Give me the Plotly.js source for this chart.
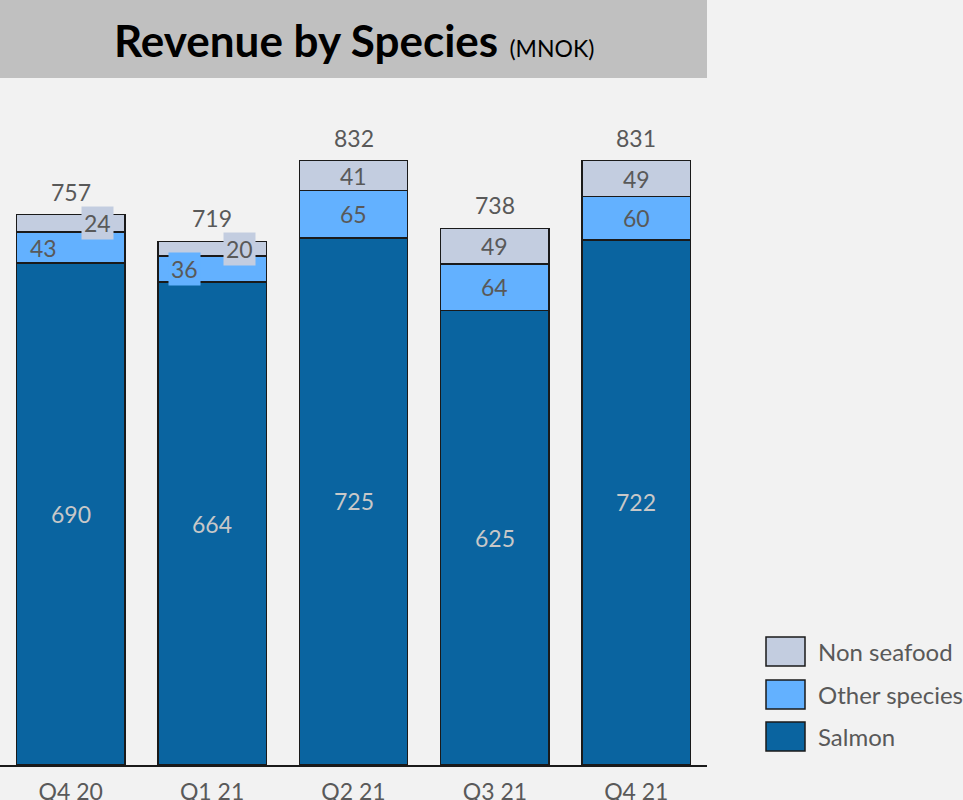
<!DOCTYPE html>
<html>
<head>
<meta charset="utf-8">
<script src="https://cdn.plot.ly/plotly-3.0.1.min.js"></script>
<style>
  html, body { margin: 0; padding: 0; background: #f2f2f2; }
  #chart { width: 963px; height: 800px; }
</style>
</head>
<body>
<div id="chart"></div>
<script>
// ---- Data ----
const quarters = ["Q4 20", "Q1 21", "Q2 21", "Q3 21", "Q4 21"];
const salmon = [690, 664, 725, 625, 722];
const otherSpecies = [43, 36, 65, 64, 60];
const nonSeafood = [24, 20, 41, 49, 49];
const totals = [757, 719, 832, 738, 831];
const seriesNames = ["Salmon", "Other species", "Non seafood"];

// ---- Styles ----
const FONT = "Lato, 'Open Sans', sans-serif";
const colSalmon = "#0a64a0";
const colOther = "#63b1ff";
const colNon = "#c3cde0";
const txt = "#595959";
const lineCol = "#1a1a1a";

const series = [salmon, otherSpecies, nonSeafood];
const colors = [colSalmon, colOther, colNon];

const traces = series.map((vals, i) => ({
  type: "bar",
  name: seriesNames[i],
  x: quarters,
  y: vals,
  marker: { color: colors[i], line: { color: lineCol, width: 1.5 } },
  hoverinfo: "x+y+name",
  showlegend: false
}));

// label offsets (pixels) for crowded small segments: [seriesIndex][quarterIndex]
const labelShift = {
  1: { 0: { x: -27, bg: false }, 1: { x: -28, bg: true } },
  2: { 0: { x: 27, bg: true }, 1: { x: 27, bg: true } }
};

const annotations = [];
quarters.forEach((q, qi) => {
  let base = 0;
  series.forEach((vals, si) => {
    const v = vals[qi];
    const sh = (labelShift[si] && labelShift[si][qi]) || null;
    annotations.push({
      x: q, y: base + v / 2, xref: "x", yref: "y",
      text: String(v), showarrow: false,
      xshift: sh ? sh.x : 0,
      font: { family: FONT, size: 23, color: si === 0 ? "#c8c8c8" : txt },
      bgcolor: sh && sh.bg ? colors[si] : "rgba(0,0,0,0)",
      borderpad: 2
    });
    base += v;
  });
  annotations.push({
    x: q, y: base, xref: "x", yref: "y",
    text: String(totals[qi]), showarrow: false,
    yanchor: "bottom", yshift: 7,
    font: { family: FONT, size: 23, color: txt }
  });
});

// Title
annotations.push({
  x: 0.5, y: 1 - 40 / 765, xref: "paper", yref: "paper",
  xanchor: "center", yanchor: "middle", showarrow: false,
  text: "<b>Revenue by Species</b> <span style='font-size:23px'>(MNOK)</span>",
  font: { family: FONT, size: 44, color: "#000000" }
});

// Custom legend (top to bottom)
const legendOrder = [2, 1, 0];
const legendTops = [637, 680, 722];
const shapes = [{
  type: "rect", xref: "paper", yref: "paper",
  x0: 0, x1: 1, y0: 1 - 78 / 765, y1: 1.0,
  fillcolor: "#c0c0c0", line: { width: 0 }, layer: "below"
}];
legendOrder.forEach((si, k) => {
  const top = legendTops[k];
  shapes.push({
    type: "rect", xref: "paper", yref: "paper",
    x0: 766 / 707, x1: 805 / 707,
    y0: (765 - (top + 29)) / 765, y1: (765 - top) / 765,
    fillcolor: colors[si], line: { color: lineCol, width: 1.5 }
  });
  annotations.push({
    x: 816 / 707, y: (765 - (top + 14.5)) / 765, xref: "paper", yref: "paper",
    xanchor: "left", yanchor: "middle", showarrow: false,
    text: seriesNames[si],
    font: { family: FONT, size: 24, color: txt }
  });
});

const layout = {
  width: 963, height: 800,
  margin: { l: 0, r: 256, t: 0, b: 35, pad: 0 },
  paper_bgcolor: "#f2f2f2",
  plot_bgcolor: "#f2f2f2",
  barmode: "stack",
  bargap: 0.233,
  font: { family: FONT, color: txt },
  xaxis: {
    type: "category",
    range: [-0.5, 4.5],
    showgrid: false, zeroline: false,
    showline: true, linecolor: lineCol, linewidth: 2,
    ticks: "", ticklabelstandoff: 5,
    tickfont: { family: FONT, size: 23, color: txt },
    fixedrange: true
  },
  yaxis: {
    range: [0, 1052],
    visible: false, showgrid: false, zeroline: false,
    fixedrange: true
  },
  showlegend: false,
  shapes: shapes,
  annotations: annotations
};

Plotly.newPlot("chart", traces, layout, { displayModeBar: false, staticPlot: true });
</script>
</body>
</html>
